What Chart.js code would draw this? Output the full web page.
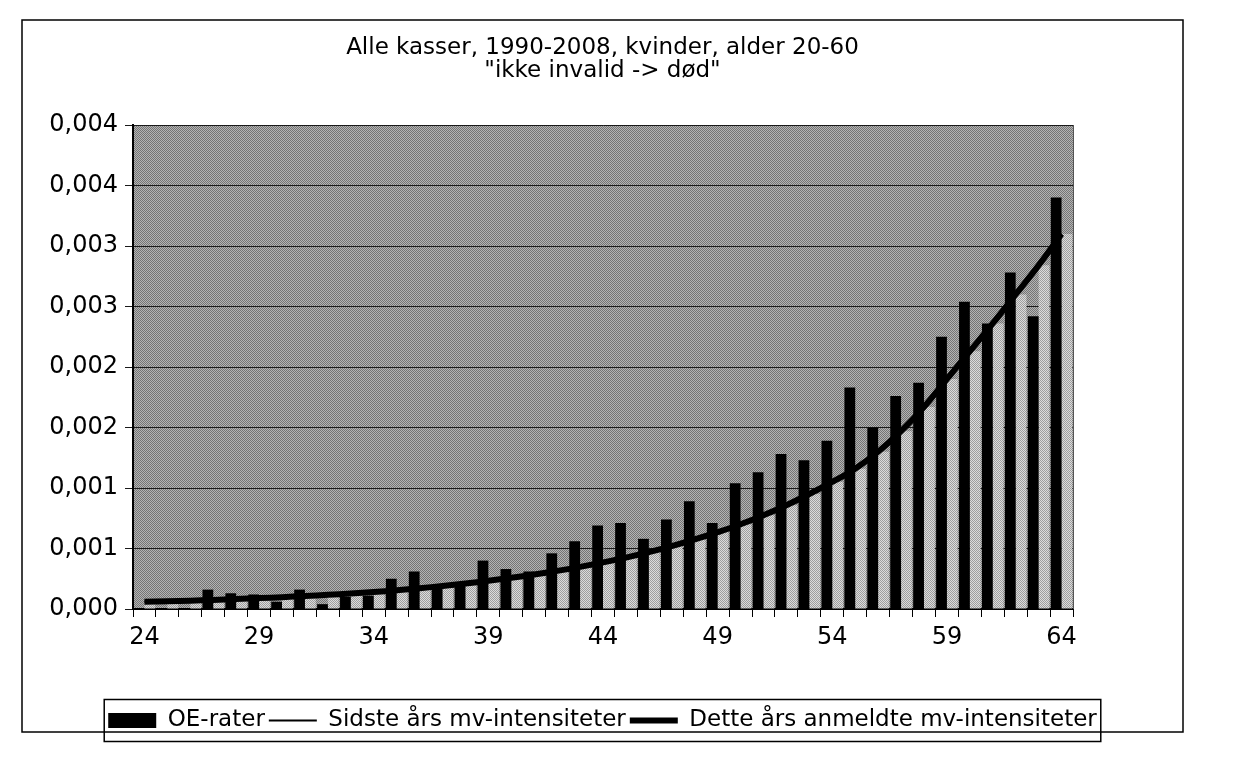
<!DOCTYPE html>
<html>
<head>
<meta charset="utf-8">
<title>Alle kasser, 1990-2008, kvinder, alder 20-60</title>
<script src="https://cdn.jsdelivr.net/npm/chart.js@4/dist/chart.umd.min.js"></script>
<style>
  html, body { margin: 0; padding: 0; background: #fff; }
</style>
</head>
<body>
<canvas id="myChart" width="1241" height="770"></canvas>
<script>
//data

//ages on the x axis
const ages = ['24', '25', '26', '27', '28', '29', '30', '31', '32', '33', '34',
  '35', '36', '37', '38', '39', '40', '41', '42', '43', '44', '45', '46', '47',
  '48', '49', '50', '51', '52', '53', '54', '55', '56', '57', '58', '59', '60',
  '61', '62', '63', '64'];

//black bars
const oeRater = [0, 0, 0, 0.00016, 0.00013, 0.00012, 0.00006, 0.00016, 0.00004, 0.0001, 0.00011,
  0.00025, 0.00031, 0.00019, 0.00022, 0.0004, 0.00033, 0.00031, 0.00046, 0.00056, 0.00069, 0.00071,
  0.00058, 0.00074, 0.00089, 0.00071, 0.00104, 0.00113, 0.00128, 0.00123, 0.00139, 0.00183, 0.0015,
  0.00176, 0.00187, 0.00225, 0.00254, 0.00236, 0.00278, 0.00242, 0.0034];

//thin line (also the light bars next to the black ones)
const sidsteAar = [0.00006, 0.000064, 0.000069, 0.000075, 0.000082, 0.00009, 0.000098, 0.000107,
  0.000117, 0.000128, 0.00014, 0.000155, 0.000172, 0.00019, 0.00021, 0.000233, 0.000258, 0.000285,
  0.000315, 0.000348, 0.000385, 0.000425, 0.00047, 0.00052, 0.000575, 0.000635, 0.0007, 0.000775,
  0.000858, 0.00095, 0.00105, 0.00116, 0.0013, 0.00147, 0.00167, 0.0019, 0.00213, 0.00236, 0.0026,
  0.00284, 0.0031];

//thick line
const detteAar = [0.00006, 0.000064, 0.000069, 0.000075, 0.000082, 0.00009, 0.000098, 0.000107,
  0.000117, 0.000128, 0.00014, 0.000155, 0.000172, 0.00019, 0.00021, 0.000233, 0.000258, 0.000285,
  0.000315, 0.000348, 0.000385, 0.000425, 0.00047, 0.00052, 0.000575, 0.000635, 0.0007, 0.000775,
  0.000858, 0.00095, 0.00105, 0.00116, 0.0013, 0.00147, 0.00167, 0.0019, 0.00213, 0.00236, 0.0026,
  0.00284, 0.0031];

//y labels exactly as printed (3 decimals, so they repeat)
const yTickLabels = ['0,000', '0,001', '0,001', '0,002', '0,002', '0,003', '0,003', '0,004', '0,004'];

const font = 'DejaVu Sans';

//small dither pattern to mimic the printed grey fills
function dither(dark, light) {
  const c = document.createElement('canvas');
  c.width = 2;
  c.height = 2;
  const g = c.getContext('2d');
  g.fillStyle = light;
  g.fillRect(0, 0, 2, 2);
  g.fillStyle = dark;
  g.fillRect(0, 0, 1, 1);
  g.fillRect(1, 1, 1, 1);
  return g.createPattern(c, 'repeat');
}
const plotFill = dither('#747474', '#b4b4b4');
const lightFill = dither('#9e9e9e', '#dcdcdc');

//grey plot area, frame round the whole chart and box round the legend
const framePlugin = {
  id: 'frames',
  beforeDraw(chart) {
    const ctx = chart.ctx;
    const a = chart.chartArea;
    ctx.save();
    ctx.fillStyle = '#fff';
    ctx.fillRect(0, 0, chart.width, chart.height);
    ctx.fillStyle = plotFill;
    ctx.fillRect(a.left, a.top, a.right - a.left, a.bottom - a.top);
    ctx.restore();
  },
  afterDraw(chart) {
    const ctx = chart.ctx;
    const a = chart.chartArea;
    ctx.save();
    ctx.strokeStyle = '#555';
    ctx.lineWidth = 1;
    ctx.beginPath();
    ctx.moveTo(a.right + 0.5, a.top);
    ctx.lineTo(a.right + 0.5, a.bottom);
    ctx.stroke();

    ctx.strokeStyle = '#000';
    ctx.lineWidth = 1.5;
    ctx.strokeRect(22, 20, 1161, 712);

    const boxes = chart.legend.legendHitBoxes;
    if (boxes && boxes.length) {
      const left = Math.min(...boxes.map(b => b.left)) - 4;
      const right = Math.max(...boxes.map(b => b.left + b.width)) + 4;
      const mid = boxes[0].top + boxes[0].height / 2;
      ctx.strokeRect(left, mid - 21, right - left, 42);
    }
    ctx.restore();
  }
};

const config = {
  type: 'bar',
  data: {
    labels: ages,
    datasets: [{
      label: 'OE-rater',
      data: oeRater,
      backgroundColor: '#000',
      borderWidth: 0,
      pointStyle: 'rect',
      barPercentage: 1,
      categoryPercentage: 0.94,
      order: 2
    },
    {
      label: 'lys',
      data: sidsteAar,
      backgroundColor: lightFill,
      borderWidth: 0,
      barPercentage: 1,
      categoryPercentage: 0.94,
      order: 3
    },
    {
      type: 'line',
      label: 'Sidste års mv-intensiteter',
      data: sidsteAar,
      borderColor: '#000',
      backgroundColor: '#000',
      borderWidth: 2,
      pointRadius: 0,
      pointStyle: 'line',
      tension: 0.4,
      order: 1
    },
    {
      type: 'line',
      label: 'Dette års anmeldte mv-intensiteter',
      data: detteAar,
      borderColor: '#000',
      backgroundColor: '#000',
      borderWidth: 6,
      pointRadius: 0,
      pointStyle: 'line',
      tension: 0.4,
      order: 0
    }]
  },
  options: {
    responsive: false,
    animation: false,
    layout: {
      padding: {left: 22, right: 58, top: 0, bottom: 28}
    },
    plugins: {
      title: {
        display: true,
        text: ['Alle kasser, 1990-2008, kvinder, alder 20-60', '"ikke invalid -> død"'],
        color: '#000',
        font: {family: font, size: 23, weight: 'normal', lineHeight: 1.0},
        padding: {top: 37, bottom: 42}
      },
      legend: {
        position: 'bottom',
        labels: {
          usePointStyle: true,
          pointStyleWidth: 48,
          boxHeight: 15,
          padding: 4,
          color: '#000',
          font: {family: font, size: 23},
          filter: item => item.datasetIndex !== 1,
          sort: (a, b) => a.datasetIndex - b.datasetIndex
        }
      },
      tooltip: {enabled: false}
    },
    scales: {
      x: {
        offset: true,
        grid: {offset: true, drawOnChartArea: false, color: '#000', tickLength: 8},
        border: {color: '#000', width: 2},
        ticks: {
          autoSkip: false,
          maxRotation: 0,
          padding: 6,
          color: '#000',
          font: {family: font, size: 24},
          callback: (v, i) => (i % 5 === 0 ? ages[i] : '')
        },
        afterFit: s => { s.height = 96; }
      },
      y: {
        min: 0,
        max: 0.004,
        grid: {color: '#1a1a1a', lineWidth: 1, tickLength: 8},
        border: {color: '#000', width: 2},
        ticks: {
          stepSize: 0.0005,
          padding: 7,
          color: '#000',
          font: {family: font, size: 24},
          callback: (v, i) => yTickLabels[i]
        },
        afterFit: s => { s.width = 111; }
      },
      //empty strip on the right so the plot ends where the original does
      y2: {
        position: 'right',
        grid: {display: false},
        border: {display: false},
        ticks: {display: false},
        afterFit: s => { s.width = 110; }
      }
    }
  },
  plugins: [framePlugin]
};

const myChart = new Chart(document.getElementById('myChart'), config);
</script>
</body>
</html>
